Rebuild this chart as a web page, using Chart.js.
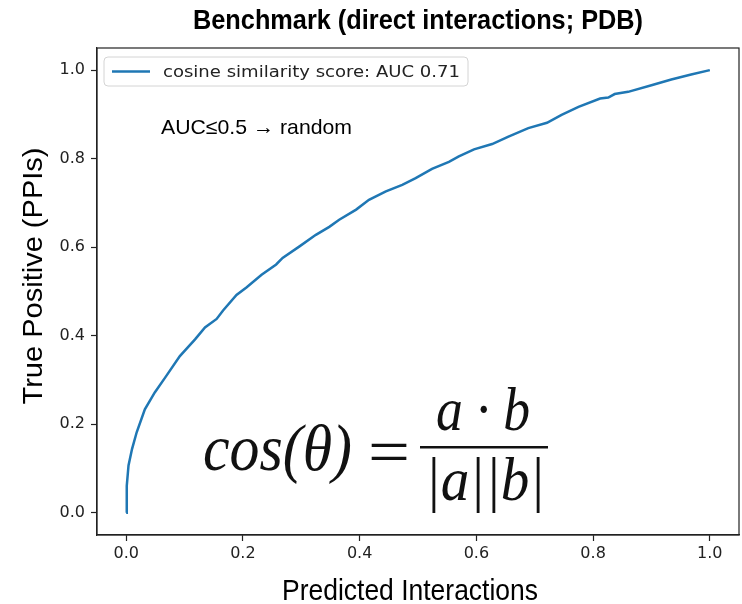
<!DOCTYPE html>
<html>
<head>
<meta charset="utf-8">
<script src="https://cdn.jsdelivr.net/npm/chart.js@4"></script>
<style>
  body { margin: 0; background: #fff; }
  canvas { display: block; }
</style>
</head>
<body>
<canvas id="rocChart" width="742" height="604"></canvas>
<script>
// ROC-style curve
const predictedInteractions = [0, 0.001, 0.004, 0.010, 0.018, 0.032, 0.049, 0.067, 0.092, 0.118, 0.135, 0.155, 0.166,
    0.189, 0.206, 0.232, 0.257, 0.268, 0.297, 0.325, 0.348, 0.365, 0.394, 0.416, 0.445, 0.473, 0.496, 0.524,
    0.553, 0.570, 0.596, 0.627, 0.655, 0.689, 0.721, 0.746, 0.775, 0.812, 0.826, 0.837, 0.860, 0.900, 0.934, 0.968, 1.0];
const truePositive = [0, 0.061, 0.107, 0.144, 0.182, 0.234, 0.272, 0.306, 0.354, 0.392, 0.419, 0.438, 0.457,
    0.492, 0.509, 0.538, 0.561, 0.576, 0.602, 0.628, 0.646, 0.662, 0.685, 0.707, 0.726, 0.741, 0.756, 0.777,
    0.793, 0.805, 0.821, 0.833, 0.850, 0.869, 0.881, 0.899, 0.917, 0.936, 0.938, 0.946, 0.951, 0.966, 0.979, 0.990, 1.0];
const xTicks = [0, 0.2, 0.4, 0.6, 0.8, 1.0];
const yTicks = [0, 0.2, 0.4, 0.6, 0.8, 1.0];
const seriesLabel = "cosine similarity score: AUC 0.71";
const titleText = "Benchmark (direct interactions; PDB)";
const xTitle = "Predicted Interactions";
const yTitle = "True Positive (PPIs)";
const noteText = "AUC\u22640.5 \u2192 random";

const sans = '"Liberation Sans", Arial, sans-serif';
const tickFont = '"DejaVu Sans", sans-serif';
const mathFont = '"Liberation Serif", "DejaVu Serif", serif';

// draw text squeezed/stretched horizontally to a target width
function fitText(ctx, str, font, x, y, w, align) {
    ctx.save();
    ctx.font = font;
    const m = ctx.measureText(str).width;
    ctx.translate(x, y);
    ctx.scale(w / m, 1);
    ctx.textAlign = align;
    ctx.textBaseline = "alphabetic";
    ctx.fillText(str, 0, 0);
    ctx.restore();
}

const decorations = {
    id: "decorations",
    afterDraw(chart) {
        const ctx = chart.ctx;
        const a = chart.chartArea;

        // full frame round the plot
        ctx.save();
        ctx.strokeStyle = "#222";
        ctx.lineWidth = 1.2;
        ctx.strokeRect(a.left, a.top, a.right - a.left, a.bottom - a.top);
        ctx.restore();

        ctx.fillStyle = "#000";
        fitText(ctx, titleText, "bold 28px " + sans, 418, 29, 450, "center");
        fitText(ctx, xTitle, "29px " + sans, 410, 600, 256, "center");

        ctx.save();
        ctx.translate(42, 276);
        ctx.rotate(-Math.PI / 2);
        fitText(ctx, yTitle, "28px " + sans, 0, 0, 257, "center");
        ctx.restore();

        fitText(ctx, noteText, "21px " + sans, 161, 134, 191, "left");

        // legend
        const ds = chart.data.datasets[0];
        ctx.save();
        ctx.beginPath();
        ctx.roundRect(104, 57, 364, 29, 4);
        ctx.fillStyle = "rgba(255,255,255,0.8)";
        ctx.fill();
        ctx.strokeStyle = "#d4d4d4";
        ctx.lineWidth = 1;
        ctx.stroke();
        ctx.beginPath();
        ctx.moveTo(112, 71.5);
        ctx.lineTo(150, 71.5);
        ctx.strokeStyle = ds.borderColor;
        ctx.lineWidth = 2.5;
        ctx.stroke();
        ctx.restore();
        ctx.fillStyle = "#222";
        fitText(ctx, ds.label, "16px " + tickFont, 163, 77, 297, "left");

        // cosine similarity formula
        ctx.fillStyle = "#111";
        fitText(ctx, "cos(\u03b8)", "italic 66px " + mathFont, 203, 470, 149, "left");
        fitText(ctx, "=", "66px " + mathFont, 368, 474, 42, "left");
        ctx.fillRect(420, 446, 128, 2.5);
        fitText(ctx, "a \u00b7 b", "italic 62px " + mathFont, 483, 430, 94, "center");
        fitText(ctx, "|a||b|", "italic 62px " + mathFont, 485, 500, 120, "center");
    }
};

const ctx = document.getElementById("rocChart").getContext("2d");
const rocChart = new Chart(ctx, {
    type: "line",
    data: {
        datasets: [{
            label: seriesLabel,
            data: predictedInteractions.map((x, i) => ({ x: x, y: truePositive[i] })),
            borderColor: "#1f77b4",
            borderWidth: 2.5,
            pointRadius: 0,
            tension: 0,
            fill: false
        }]
    },
    options: {
        responsive: false,
        animation: false,
        devicePixelRatio: 1,
        layout: { padding: { top: 48, right: 3, left: 0, bottom: 0 } },
        plugins: {
            legend: { display: false },
            title: { display: false },
            tooltip: { enabled: false }
        },
        scales: {
            x: {
                type: "linear",
                min: -0.05,
                max: 1.05,
                afterFit: s => { s.height = 69; },
                afterBuildTicks: s => { s.ticks = xTicks.map(v => ({ value: v })); },
                grid: { drawOnChartArea: false, drawTicks: true, tickLength: 6, tickColor: "#222", tickWidth: 1.2 },
                border: { display: true, color: "#222", width: 1.2 },
                ticks: {
                    padding: 3,
                    color: "#222",
                    font: { family: tickFont, size: 16 },
                    callback: v => v.toFixed(1)
                }
            },
            y: {
                type: "linear",
                min: -0.05,
                max: 1.05,
                afterFit: s => { s.width = 97; },
                afterBuildTicks: s => { s.ticks = yTicks.map(v => ({ value: v })); },
                grid: { drawOnChartArea: false, drawTicks: true, tickLength: 6, tickColor: "#222", tickWidth: 1.2 },
                border: { display: true, color: "#222", width: 1.2 },
                ticks: {
                    padding: 6,
                    color: "#222",
                    font: { family: tickFont, size: 16 },
                    callback: v => v.toFixed(1)
                }
            }
        }
    },
    plugins: [decorations]
});
</script>
</body>
</html>
